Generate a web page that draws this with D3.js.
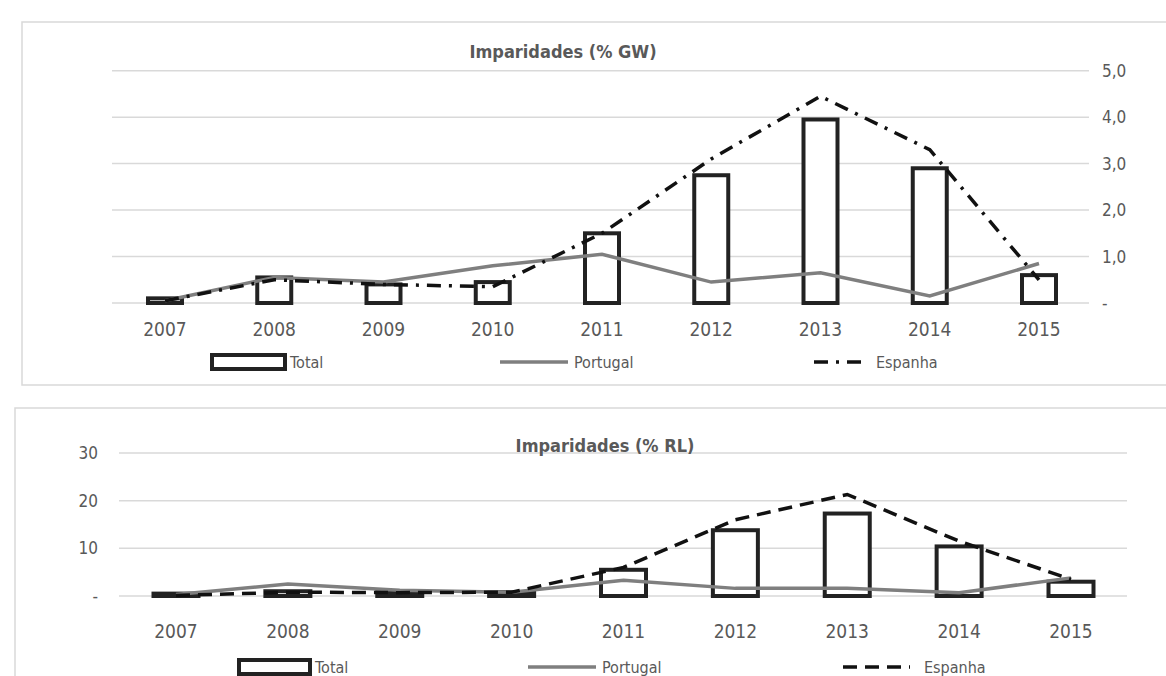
<!DOCTYPE html>
<html><head><meta charset="utf-8">
<script src="https://cdn.jsdelivr.net/npm/d3@7"></script>
<style>body{margin:0;background:#fff}text{font-family:"Liberation Sans Narrow","DejaVu Sans Condensed",sans-serif}</style>
</head><body><svg id="c" width="1166" height="676"></svg>
<script>
var years = ["2007","2008","2009","2010","2011","2012","2013","2014","2015"]
// chart 1: % GW
var gwTotal = [0.1,0.55,0.4,0.45,1.5,2.75,3.95,2.9,0.6]
var gwPortugal = [0.05,0.55,0.45,0.8,1.05,0.45,0.65,0.15,0.85]
var gwEspanha = [0.05,0.5,0.4,0.35,1.5,3.1,4.45,3.3,0.5]
var gwTicks = [0,1,2,3,4,5]
// chart 2: % RL
var rlTotal = [0.5,1,0.8,0.8,5.5,13.8,17.3,10.4,3]
var rlPortugal = [0.3,2.5,1.2,0.8,3.3,1.6,1.6,0.7,3.8]
var rlEspanha = [0.1,0.8,0.7,0.8,6,16,21.3,11.5,3.5]
var rlTicks = [0,10,20,30]

var svg = d3.select('#c')

function chart(o){
  var g = svg.append('g')
  g.append('rect').attr('x',o.frame[0]).attr('y',o.frame[1]).attr('width',o.frame[2]).attr('height',o.frame[3])
    .attr('fill','none').attr('stroke','#d9d9d9').attr('stroke-width',1.5)
  var x = d3.scalePoint().domain(years).range([o.x0,o.x1])
  var y = d3.scaleLinear().domain(o.domain).range([o.y0,o.y1])
  g.selectAll('line.grid').data(o.ticks).enter().append('line')
    .attr('x1',o.gx0).attr('x2',o.gx1).attr('y1',d=>y(d)).attr('y2',d=>y(d))
    .attr('stroke','#d9d9d9').attr('stroke-width',1.5)
  g.selectAll('text.yt').data(o.ticks).enter().append('text')
    .attr('x',o.tx).attr('y',d=>y(d)+6).attr('text-anchor',o.tanchor)
    .attr('font-size',17).attr('fill','#595959').text(d=>d==0?'-':o.fmt(d).replace('.',','))
  g.selectAll('text.xt').data(years).enter().append('text')
    .attr('x',d=>x(d)).attr('y',o.y0+o.xtOff).attr('text-anchor','middle')
    .attr('font-size',19).attr('fill','#595959').text(d=>d)
  g.append('text').attr('x',o.title[0]).attr('y',o.title[1]).attr('text-anchor','middle')
    .attr('font-size',18).attr('font-weight','bold').attr('fill','#595959').text(o.title[2])
  var bw = o.bw
  g.selectAll('rect.bar').data(o.total).enter().append('rect')
    .attr('x',(d,i)=>x(years[i])-bw/2).attr('y',d=>y(d)).attr('width',bw).attr('height',d=>o.y0-y(d))
    .attr('fill','#fff').attr('stroke','#222').attr('stroke-width',4)
  var line = d3.line().x((d,i)=>x(years[i])).y(d=>y(d))
  g.append('path').attr('d',line(o.pt)).attr('fill','none').attr('stroke','#7f7f7f').attr('stroke-width',3.5)
  g.append('path').attr('d',line(o.es)).attr('fill','none').attr('stroke','#111').attr('stroke-width',3.5).attr('stroke-dasharray',o.dash)
  var L = o.legend, ly = L.y
  g.append('rect').attr('x',L.t[0]).attr('y',ly-7).attr('width',L.t[1]-L.t[0]).attr('height',14)
    .attr('fill','#fff').attr('stroke','#222').attr('stroke-width',4)
  g.append('text').attr('x',L.t[1]+5).attr('y',ly+6).attr('font-size',16).attr('fill','#595959').text('Total')
  g.append('line').attr('x1',L.p[0]).attr('x2',L.p[1]).attr('y1',ly).attr('y2',ly).attr('stroke','#7f7f7f').attr('stroke-width',3.5)
  g.append('text').attr('x',L.p[1]+6).attr('y',ly+6).attr('font-size',16).attr('fill','#595959').text('Portugal')
  g.append('line').attr('x1',L.e[0]).attr('x2',L.e[1]).attr('y1',ly).attr('y2',ly).attr('stroke','#111').attr('stroke-width',3.5).attr('stroke-dasharray',o.dash)
  g.append('text').attr('x',L.e[1]+14).attr('y',ly+6).attr('font-size',16).attr('fill','#595959').text('Espanha')
}

chart({frame:[22,22,1150,363], x0:165,x1:1039, y0:303,y1:70.7, domain:[0,5], gx0:112,gx1:1089,
  ticks:gwTicks, tx:1102, tanchor:'start', fmt:d3.format('.1f'), xtOff:33, bw:34,
  title:[563,58,'Imparidades (% GW)'], total:gwTotal, pt:gwPortugal, es:gwEspanha, dash:'14,8,3,8',
  legend:{y:362,t:[212,285],p:[500,568],e:[814,862]}})

chart({frame:[15,408,1160,280], x0:176,x1:1071, y0:596,y1:453, domain:[0,30], gx0:119,gx1:1127,
  ticks:rlTicks, tx:98, tanchor:'end', fmt:d3.format('d'), xtOff:42, bw:45,
  title:[605,452,'Imparidades (% RL)'], total:rlTotal, pt:rlPortugal, es:rlEspanha, dash:'14,8',
  legend:{y:667,t:[239,310],p:[528,596],e:[843,910]}})
</script></body></html>
